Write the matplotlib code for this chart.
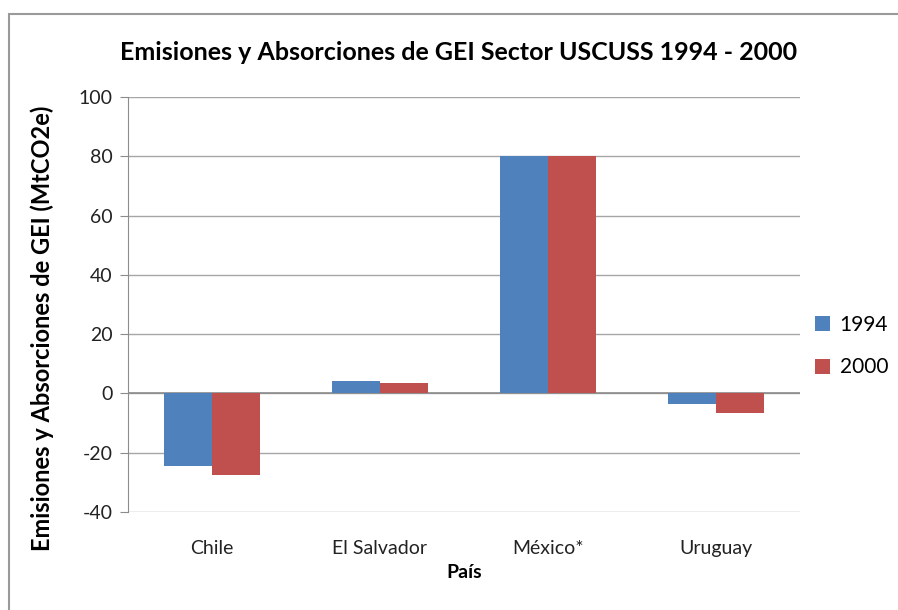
import matplotlib
matplotlib.use("Agg")
import matplotlib.pyplot as plt
import numpy as np
from matplotlib.patches import Rectangle

categories = ["Chile", "El Salvador", "México*", "Uruguay"]
series_names = ["1994", "2000"]
values_1994 = [-24.5, 4.2, 80.0, -3.6]
values_2000 = [-27.5, 3.5, 80.0, -6.6]
yticks = [-40, -20, 0, 20, 40, 60, 80, 100]

plt.rcParams['font.family'] = ['Lato', 'DejaVu Sans']

fig = plt.figure(figsize=(8.98, 6.10), dpi=100)
fig.patch.set_facecolor("white")
fig.add_artist(Rectangle((9/898, -0.01), 1.1, 1 - 14/610 + 0.01, transform=fig.transFigure,
                         fill=False, edgecolor="#9a9a9a", linewidth=1.5))

ax = fig.add_axes([128/898, 1 - 512/610, (800 - 128)/898, (512 - 97)/610])
x = np.arange(len(categories))
w = 0.283
ax.bar(x - w/2, values_1994, width=w, color="#4F81BD", label=series_names[0], zorder=3)
ax.bar(x + w/2, values_2000, width=w, color="#C0504D", label=series_names[1], zorder=3)

ax.set_xlim(-0.5, len(categories) - 0.5)
ax.set_ylim(-40, 100)
ax.set_yticks(yticks)
ax.set_yticklabels([str(t) for t in yticks], fontsize=14, color="#222222")
ax.yaxis.grid(True, color="#a6a6a6", linewidth=1)
ax.set_axisbelow(True)
ax.axhline(0, color="#8c8c8c", linewidth=1.2, zorder=2)
for s in ["top", "right", "bottom"]:
    ax.spines[s].set_visible(False)
ax.spines["left"].set_color("#8c8c8c")
ax.tick_params(axis="y", length=6, color="#8c8c8c", pad=5)
ax.set_xticks(x)
ax.set_xticklabels(categories, fontsize=14, color="#222222")
ax.tick_params(axis="x", length=0, pad=20)

ax.set_xlabel("País", fontsize=14, fontweight="bold", labelpad=5)
ax.set_ylabel("Emisiones y Absorciones de GEI (MtCO2e)", fontsize=17, fontweight="bold")
ax.yaxis.set_label_coords(-(128 - 54) / 672, (512 - 328) / 415)
fig.text(0.5 * (117 + 800) / 898, 1 - 52/610, "Emisiones y Absorciones de GEI Sector USCUSS 1994 - 2000",
         ha="center", va="center", fontsize=18, fontweight="bold")

leg = ax.legend(loc="center left", bbox_to_anchor=(1.0, 0.40), frameon=False, fontsize=15,
                handlelength=0.75, handleheight=0.75, labelspacing=1.1, handletextpad=0.45,
                borderaxespad=0.3)

fig.savefig("out.png", dpi=100)
